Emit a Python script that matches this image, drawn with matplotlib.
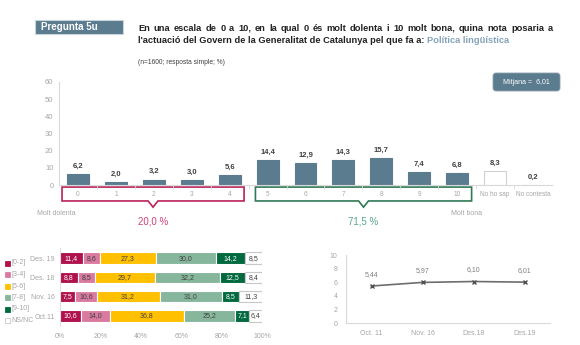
import matplotlib
matplotlib.use('Agg')
import matplotlib.pyplot as plt
from matplotlib.patches import Rectangle, FancyBboxPatch, Polygon
import matplotlib.transforms as mtransforms
import numpy as np

plt.rcParams['font.family'] = ['Liberation Sans', 'DejaVu Sans']

# data
notes = ['0', '1', '2', '3', '4', '5', '6', '7', '8', '9', '10', 'No ho sap', 'No contesta']
pct = [6.2, 2.0, 3.2, 3.0, 5.6, 14.4, 12.9, 14.3, 15.7, 7.4, 6.8, 8.3, 0.2]
mitjana = 6.01
neg_total = 20.0
pos_total = 71.5

waves = ['Des. 19', 'Des. 18', 'Nov. 16', 'Oct.11']
groups = ['[0-2]', '[3-4]', '[5-6]', '[7-8]', '[9-10]', 'NS/NC']
g_0_2 = [11.4, 8.8, 7.5, 10.6]
g_3_4 = [8.6, 8.5, 10.6, 14.0]
g_5_6 = [27.3, 29.7, 31.2, 36.8]
g_7_8 = [30.0, 32.2, 31.0, 25.2]
g_9_10 = [14.2, 12.5, 8.5, 7.1]
g_nsnc = [8.5, 8.4, 11.3, 6.4]

trend_x = ['Oct. 11', 'Nov. 16', 'Des.18', 'Des.19']
trend_y = [5.44, 5.97, 6.10, 6.01]

W, H = 580, 345
SLATE = '#5b7b8f'
GREY = '#a6a6a6'
AX = '#d9d9d9'


def rect(x0, y0, x1, y1):
    return [x0 / W, 1 - y1 / H, (x1 - x0) / W, (y1 - y0) / H]


def fmt(v, d=1):
    return f'{v:.{d}f}'.replace('.', ',')


fig = plt.figure(figsize=(W / 100, H / 100), dpi=100)

# ---- top bar chart
ax1 = fig.add_axes(rect(59, 82, 552, 185))
ax1.set_facecolor('none')
x = np.arange(len(notes))
cols = [SLATE] * 11 + ['white', 'white']
edges = [SLATE] * 11 + ['#d0d0d0', '#d0d0d0']
ax1.bar(x, pct, width=0.58, color=cols, edgecolor=edges, linewidth=0.8)
for xi, v in zip(x, pct):
    ax1.annotate(fmt(v), (xi, v), xytext=(0, 3), textcoords='offset points',
                 ha='center', va='bottom', fontsize=5.5, color='#404040', fontweight='bold')
ax1.set_xlim(-0.5, len(notes) - 0.5)
ax1.set_ylim(0, 60)
ax1.set_yticks(range(0, 61, 10))
ax1.set_xticks(x)
ax1.set_xticklabels(notes)
ax1.set_xticks(np.arange(0.5, len(notes) - 1, 1), minor=True)
ax1.tick_params(axis='x', which='major', length=0, pad=4.5, labelsize=4.7, labelcolor=GREY)
ax1.tick_params(axis='x', which='minor', length=3, color=AX, direction='out')
ax1.tick_params(axis='y', length=0, pad=4, labelsize=5.5, labelcolor=GREY)
for s in ['top', 'right']:
    ax1.spines[s].set_visible(False)
for s in ['left', 'bottom']:
    ax1.spines[s].set_color(AX)
    ax1.spines[s].set_linewidth(0.8)

# brackets under the note labels
bt = mtransforms.blended_transform_factory(ax1.transData, ax1.transAxes)


def bracket(x0, x1, color):
    c = (x0 + x1) / 2
    top, bot, tip, hw = -0.02, -0.155, -0.215, 0.13
    pts = [(x0, bot), (c - hw, bot), (c, tip), (c + hw, bot), (x1, bot), (x1, top), (x0, top)]
    ax1.add_patch(Polygon(pts, closed=True, fill=False, edgecolor=color, linewidth=1.2,
                          transform=bt, clip_on=False))
    return c


c1 = bracket(-0.42, 4.38, '#b8245a')
c2 = bracket(4.68, 10.38, '#2e7a55')
ax1.text(c1, -0.35, fmt(neg_total) + ' %', transform=bt, ha='center', va='center',
         fontsize=7, color='#d0407a')
ax1.text(c2, -0.35, fmt(pos_total) + ' %', transform=bt, ha='center', va='center',
         fontsize=7, color='#5aa58a')
ax1.text(-0.58, -0.28, 'Molt dolenta', transform=bt, ha='center', va='center', fontsize=5, color=GREY)
ax1.text(10.26, -0.28, 'Molt bona', transform=bt, ha='center', va='center', fontsize=5, color=GREY)

# ---- stacked bars
ax2 = fig.add_axes(rect(60, 248.4, 262, 325.7))
ax2.set_facecolor('none')
series = [g_0_2, g_3_4, g_5_6, g_7_8, g_9_10, g_nsnc]
scol = ['#b0124e', '#d97ba1', '#ffc000', '#86b79d', '#00693e', 'white']
tcol = ['white', '#404040', '#404040', '#404040', 'white', '#404040']
yy = np.arange(len(waves))
left = np.zeros(len(waves))
for vals, c, tc in zip(series, scol, tcol):
    vals = np.array(vals)
    ax2.barh(yy, vals, left=left, height=0.58, color=c,
             edgecolor='#c8c8c8' if c == 'white' else 'white', linewidth=0.8)
    for yi, l, v in zip(yy, left, vals):
        ax2.text(l + v / 2, yi, fmt(v), ha='center', va='center', fontsize=5, color=tc)
    left += vals
ax2.set_xlim(0, 100)
ax2.set_ylim(len(waves) - 0.5, -0.5)
ax2.set_yticks(yy)
ax2.set_yticklabels(waves)
ax2.set_xticks(range(0, 101, 20))
ax2.set_xticklabels([f'{t}%' for t in range(0, 101, 20)])
ax2.tick_params(length=0, labelsize=5, labelcolor=GREY)
ax2.tick_params(axis='x', pad=5)
ax2.tick_params(axis='y', pad=4)
for s in ['top', 'right', 'bottom']:
    ax2.spines[s].set_visible(False)
ax2.spines['left'].set_color(AX)
ax2.spines['left'].set_linewidth(0.6)

# ---- trend line
ax3 = fig.add_axes(rect(346, 255, 550, 323))
ax3.set_facecolor('none')
tx = np.arange(len(trend_x))
ax3.plot(tx, trend_y, color='#6e6e6e', linewidth=1.2, marker='x', markersize=3.5,
         markeredgewidth=1, markeredgecolor='#505050')
for xi, v in zip(tx, trend_y):
    ax3.annotate(fmt(v, 2), (xi, v), xytext=(0, 6), textcoords='offset points',
                 ha='center', va='bottom', fontsize=5, color='#808080')
ax3.set_xlim(-0.5, len(trend_x) - 0.5)
ax3.set_ylim(0, 10)
ax3.set_yticks(range(0, 11, 2))
ax3.set_xticks(tx)
ax3.set_xticklabels(trend_x)
ax3.tick_params(length=0, labelsize=5, labelcolor=GREY)
ax3.tick_params(axis='x', pad=5)
ax3.tick_params(axis='y', pad=6)
for s in ['top', 'right']:
    ax3.spines[s].set_visible(False)
for s in ['left', 'bottom']:
    ax3.spines[s].set_color(AX)
    ax3.spines[s].set_linewidth(0.8)

# ---- overlay for header, mean box, legend
ov = fig.add_axes([0, 0, 1, 1])
ov.set_xlim(0, W)
ov.set_ylim(H, 0)
ov.axis('off')
ov.patch.set_alpha(0)

ov.add_patch(Rectangle((35, 20), 88, 14, facecolor=SLATE, edgecolor='#c9d3da', linewidth=0.8))
ov.text(41, 27.5, 'Pregunta 5u', fontsize=7, fontweight='bold', color='white', va='center')

# title: first line justified between x=138 and x=553
fs = 6.65
title1 = 'En una escala de 0 a 10, en la qual 0 és molt dolenta i 10 molt bona, quina nota posaria a'
words = title1.split()
wt = [ov.text(0, 31, w, fontsize=fs, fontweight='bold', color='#222222', va='baseline') for w in words]
fig.canvas.draw()
widths = [t.get_window_extent().width for t in wt]
gap = (553 - 138 - sum(widths)) / (len(words) - 1)
xpos = 138
for t, w in zip(wt, widths):
    t.set_x(xpos)
    xpos += w + gap

t2 = ov.text(138, 43, "l'actuació del Govern de la Generalitat de Catalunya pel que fa a: ",
             fontsize=fs, fontweight='bold', color='#222222', va='baseline')
fig.canvas.draw()
bb = t2.get_window_extent()
ov.text(bb.x1, 43, 'Política lingüística', fontsize=fs, fontweight='bold', color='#84a3b8', va='baseline')
ov.text(138, 63, '(n=1600; resposta simple; %)', fontsize=4.8, color='#404040', va='center')

ov.add_patch(FancyBboxPatch((493, 73), 67, 18, boxstyle='round,pad=0,rounding_size=3',
                            facecolor=SLATE, edgecolor='#8aa0ae', linewidth=0.6))
ov.text(526.5, 82, 'Mitjana =  ' + fmt(mitjana, 2), fontsize=5, color='white', ha='center', va='center')

for i, (g, c) in enumerate(zip(groups, scol)):
    y = 263 + i * 11.5
    ov.add_patch(Rectangle((5, y - 2.5), 5, 5, facecolor=c,
                           edgecolor='#c8c8c8' if c == 'white' else c, linewidth=0.6))
    ov.text(11, y, g, fontsize=5, color=GREY, va='center')

fig.savefig('out.png', dpi=100)
